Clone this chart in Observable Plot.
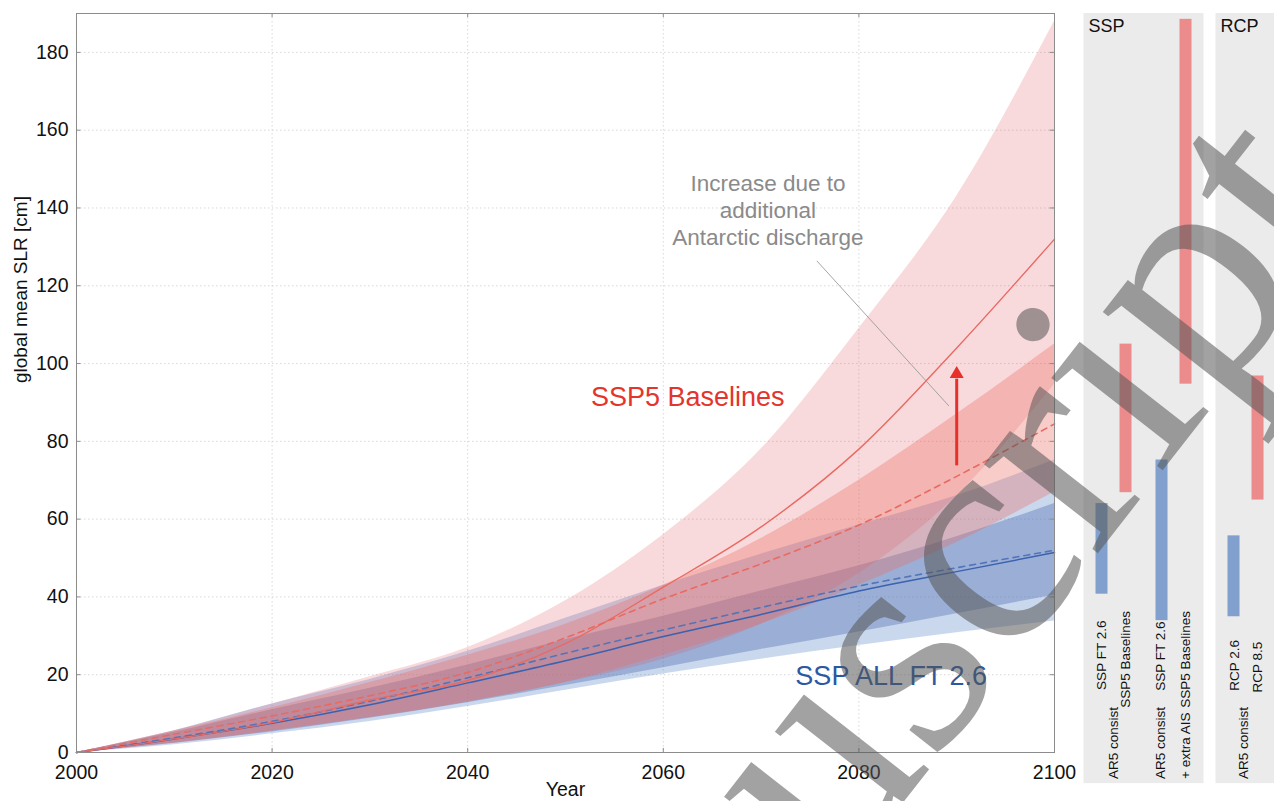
<!DOCTYPE html>
<html><head><meta charset="utf-8">
<script src="https://cdn.jsdelivr.net/npm/d3@7"></script>
<script src="https://cdn.jsdelivr.net/npm/@observablehq/plot@0.6"></script>
<style>
body{margin:0;background:#fff;width:1274px;height:801px;overflow:hidden;position:relative;font-family:"Liberation Sans",Arial,sans-serif}
#main{position:absolute;left:0;top:0}
#side{position:absolute;left:1074px;top:0}
#wm{position:absolute;left:0;top:0;pointer-events:none}
</style></head><body>
<div id="main"></div><div id="side"></div>
<svg id="wm" width="1274" height="801"></svg>
<script>
// ---------- data ----------
const years = [2000, 2010, 2020, 2030, 2040, 2050, 2060, 2070, 2080, 2090, 2100];
// SSP5 baselines, AR5-consistent + extra Antarctic discharge
const ssp5AisMedian = [0, 3.5, 7.7, 13.5, 18.5, 28, 42.5, 58, 78, 104, 132];
const ssp5AisLow    = [0, 2.3, 5.5, 9, 13, 18, 24, 33, 46, 66, 94.7];
const ssp5AisHigh   = [0, 5.6, 12.5, 19.5, 27, 39, 56, 78, 109, 143, 188];
// SSP5 baselines, AR5-consistent
const ssp5Ar5Median = [0, 4.7, 9.4, 14.6, 20.6, 29.5, 39.5, 48.5, 58.5, 71, 84.5];
const ssp5Ar5Low    = [0, 2.5, 5.5, 9, 13, 18, 25, 33, 43, 54, 67];
const ssp5Ar5High   = [0, 5.5, 11.5, 18, 25, 33, 43, 55, 70, 87, 105];
// SSP all FT 2.6, AR5-consistent + extra AIS
const ftAisMedian = [0, 3.5, 7.5, 12.3, 17.9, 23.6, 29.8, 35.5, 41.5, 46.5, 51.4];
const ftAisLow    = [0, 2, 4.8, 8, 11.8, 16, 20.2, 24, 27.5, 30.8, 33.8];
const ftAisHigh   = [0, 5.6, 12.5, 18.8, 26, 34.5, 43, 51, 58.5, 66, 75.2];
// SSP all FT 2.6, AR5-consistent
const ftAr5Median = [0, 3.8, 8, 13.2, 19.2, 25.5, 31.5, 37.3, 42.8, 47.5, 52];
const ftAr5Low    = [0, 2.4, 5.3, 8.8, 12.8, 17.2, 21.8, 26.5, 31, 35.7, 40.5];
const ftAr5High   = [0, 5.2, 11, 16.5, 22.5, 29, 35, 41.5, 48, 55.5, 64];

const xTicks = [2000, 2020, 2040, 2060, 2080, 2100];
const yTicks = [0, 20, 40, 60, 80, 100, 120, 140, 160, 180];

// side panel: 2100 ranges
const barLabels = ["AR5 consist SSP FT 2.6", "AR5 consist SSP5 Baselines", "AR5 consist + extra AIS SSP FT 2.6", "AR5 consist + extra AIS SSP5 Baselines", "AR5 consist RCP 2.6", "AR5 consist RCP 8.5"];
const barSlots = [1, 2, 3.5, 4.5, 6.5, 7.5];
const barLow   = [40.7, 66.8, 33.9, 94.7, 34.9, 64.9];
const barHigh  = [64.0, 105, 75.2, 188.5, 55.7, 96.8];
const barKind  = ["blue", "red", "blue", "red", "blue", "red"];
const panelNames = ["SSP", "RCP"];
const panelFrom = [0.25, 5.75];
const panelTo = [5.25, 8.5];

const watermarkText = "Manuscript";

// ---------- styles ----------
const FONT = "'Liberation Sans', Arial, Helvetica, sans-serif";
const RED_TXT = "#e4342e", BLUE_TXT = "#2c58a2";
const curve = "monotone-x";

const rows = years.map((year, i) => ({
  year,
  aisMed: ssp5AisMedian[i], aisLo: ssp5AisLow[i], aisHi: ssp5AisHigh[i],
  ar5Med: ssp5Ar5Median[i], ar5Lo: ssp5Ar5Low[i], ar5Hi: ssp5Ar5High[i],
  ftAisMed: ftAisMedian[i], ftAisLo: ftAisLow[i], ftAisHi: ftAisHigh[i],
  ftAr5Med: ftAr5Median[i], ftAr5Lo: ftAr5Low[i], ftAr5Hi: ftAr5High[i]
}));

const main = Plot.plot({
  width: 1090, height: 801,
  marginLeft: 76, marginRight: 36, marginTop: 13, marginBottom: 49,
  style: {fontFamily: FONT, fontSize: "19.5px", color: "#111", background: "white"},
  x: {domain: [2000, 2100]},
  y: {domain: [0, 190]},
  marks: [
    Plot.gridY(yTicks, {stroke: "#c8c8c8", strokeOpacity: 0.7, strokeDasharray: "1.5,2.5"}),
    Plot.gridX(xTicks.slice(1, -1), {stroke: "#c8c8c8", strokeOpacity: 0.7, strokeDasharray: "1.5,2.5"}),
    // blue bands
    Plot.areaY(rows, {x: "year", y1: "ftAisLo", y2: "ftAisHi", fill: "rgb(80,125,200)", fillOpacity: 0.3, curve}),
    Plot.areaY(rows, {x: "year", y1: "ftAr5Lo", y2: "ftAr5Hi", fill: "rgb(90,120,180)", fillOpacity: 0.42, curve}),
    // red bands
    Plot.areaY(rows, {x: "year", y1: "aisLo", y2: "aisHi", fill: "rgb(225,70,80)", fillOpacity: 0.2, curve}),
    Plot.areaY(rows, {x: "year", y1: "ar5Lo", y2: "ar5Hi", fill: "rgb(232,110,100)", fillOpacity: 0.35, curve}),
    // medians
    Plot.lineY(rows, {x: "year", y: "ftAr5Med", stroke: "#5474b8", strokeWidth: 1.6, strokeDasharray: "6,5", curve}),
    Plot.lineY(rows, {x: "year", y: "ftAisMed", stroke: "#3a62b0", strokeWidth: 1.5, curve}),
    Plot.lineY(rows, {x: "year", y: "ar5Med", stroke: "#e96a62", strokeWidth: 1.6, strokeDasharray: "6,5", curve}),
    Plot.lineY(rows, {x: "year", y: "aisMed", stroke: "#e96a62", strokeWidth: 1.4, curve}),
    Plot.frame({stroke: "#8c8c8c"}),
    // inward ticks
    Plot.ruleY(yTicks.slice(1), {x1: 2000, x2: 2000.45, stroke: "#8c8c8c"}),
    Plot.ruleY(yTicks.slice(1), {x1: 2099.55, x2: 2100, stroke: "#8c8c8c"}),
    Plot.ruleX(xTicks.slice(1, -1), {y1: 0, y2: 1.05, stroke: "#8c8c8c"}),
    Plot.ruleX(xTicks.slice(1, -1), {y1: 188.95, y2: 190, stroke: "#8c8c8c"}),
    Plot.axisX({ticks: xTicks, tickSize: 0, tickPadding: 13, tickFormat: "d", label: null, fill: "#111"}),
    Plot.axisY({ticks: yTicks, tickSize: 0, tickPadding: 8, label: null, fill: "#111"}),
    Plot.text(["Year"], {frameAnchor: "bottom", dy: 43, fontSize: 19.5, fill: "#111"}),
    Plot.text(["global mean SLR [cm]"], {frameAnchor: "left", dx: -56, rotate: -90, fontSize: 19, fill: "#111"}),
    // annotations
    Plot.link([{x1: 2075.7, y1: 126.4, x2: 2089.2, y2: 89.1}], {x1: "x1", y1: "y1", x2: "x2", y2: "y2", stroke: "#9a9a9a", strokeWidth: 0.9}),
    Plot.ruleX([2090], {y1: 73.7, y2: 96, stroke: "#e8302a", strokeWidth: 3}),
    Plot.dot([{x: 2090, y: 97.3}], {x: "x", y: "y", symbol: "triangle", r: 5.2, fill: "#e8302a", stroke: null}),
    Plot.text(["Increase due to\nadditional\nAntarctic discharge"], {x: () => 2070.7, y: () => 139.6, fontSize: 22.5, lineHeight: 1.2, fill: "#8a8a8a"}),
    Plot.text(["SSP5 Baselines"], {x: () => 2062.5, y: () => 91.4, fontSize: 27, fill: RED_TXT}),
    Plot.text(["SSP ALL FT 2.6"], {x: () => 2083.3, y: () => 19.7, fontSize: 27, fill: BLUE_TXT})
  ]
});
document.getElementById("main").append(main);

// ---------- side panel ----------
const bars = barSlots.map((s, i) => ({slot: s, lo: barLow[i], hi: barHigh[i], kind: barKind[i], label: barLabels[i]}));
const panels = panelNames.map((name, i) => ({name, x1: panelFrom[i], x2: panelTo[i]}));
const sideLabels = [
  {slot: 1.0, y: 16.1, text: "SSP FT 2.6"},
  {slot: 1.48, y: -6.8, text: "AR5 consist"},
  {slot: 1.98, y: 11.5, text: "SSP5 Baselines"},
  {slot: 3.44, y: 15.9, text: "SSP FT 2.6"},
  {slot: 3.44, y: -6.8, text: "AR5 consist"},
  {slot: 4.48, y: 11.5, text: "SSP5 Baselines"},
  {slot: 4.48, y: -6.8, text: "+ extra AIS"},
  {slot: 6.52, y: 15.9, text: "RCP 2.6"},
  {slot: 6.9, y: -6.8, text: "AR5 consist"},
  {slot: 7.48, y: 15.4, text: "RCP 8.5"}
];
const side = Plot.plot({
  width: 200, height: 801,
  marginLeft: 0, marginRight: 0, marginTop: 13, marginBottom: 49,
  style: {fontFamily: FONT, background: "transparent"},
  x: {domain: [-0.146, 8.187], axis: null},
  y: {domain: [0, 190], axis: null},
  marks: [
    Plot.rect(panels, {x1: "x1", x2: "x2", y1: () => -8, y2: () => 190, fill: "#ebebeb"}),
    Plot.text(panels, {x: d => d.x1 + 0.19, y: () => 186.6, text: "name", textAnchor: "start", fontSize: 18, fill: "#111"}),
    Plot.rect(bars, {x1: d => d.slot - 0.25, x2: d => d.slot + 0.25, y1: "lo", y2: "hi",
      fill: d => d.kind === "red" ? "#ec8b8b" : "#82a0cd"}),
    Plot.text(sideLabels, {x: "slot", y: "y", text: "text", rotate: -90, textAnchor: "start", fontSize: 13.5, fill: "#111"})
  ]
});
document.getElementById("side").append(side);

// ---------- watermark ----------
const wm = d3.select("#wm");
wm.append("text")
  .attr("transform", "translate(480,1344) rotate(-52)")
  .attr("font-family", "'Liberation Serif', 'DejaVu Serif', serif")
  .attr("font-size", 315)
  .attr("fill", "#555")
  .attr("fill-opacity", 0.55)
  .text(watermarkText);
</script>
</body></html>
